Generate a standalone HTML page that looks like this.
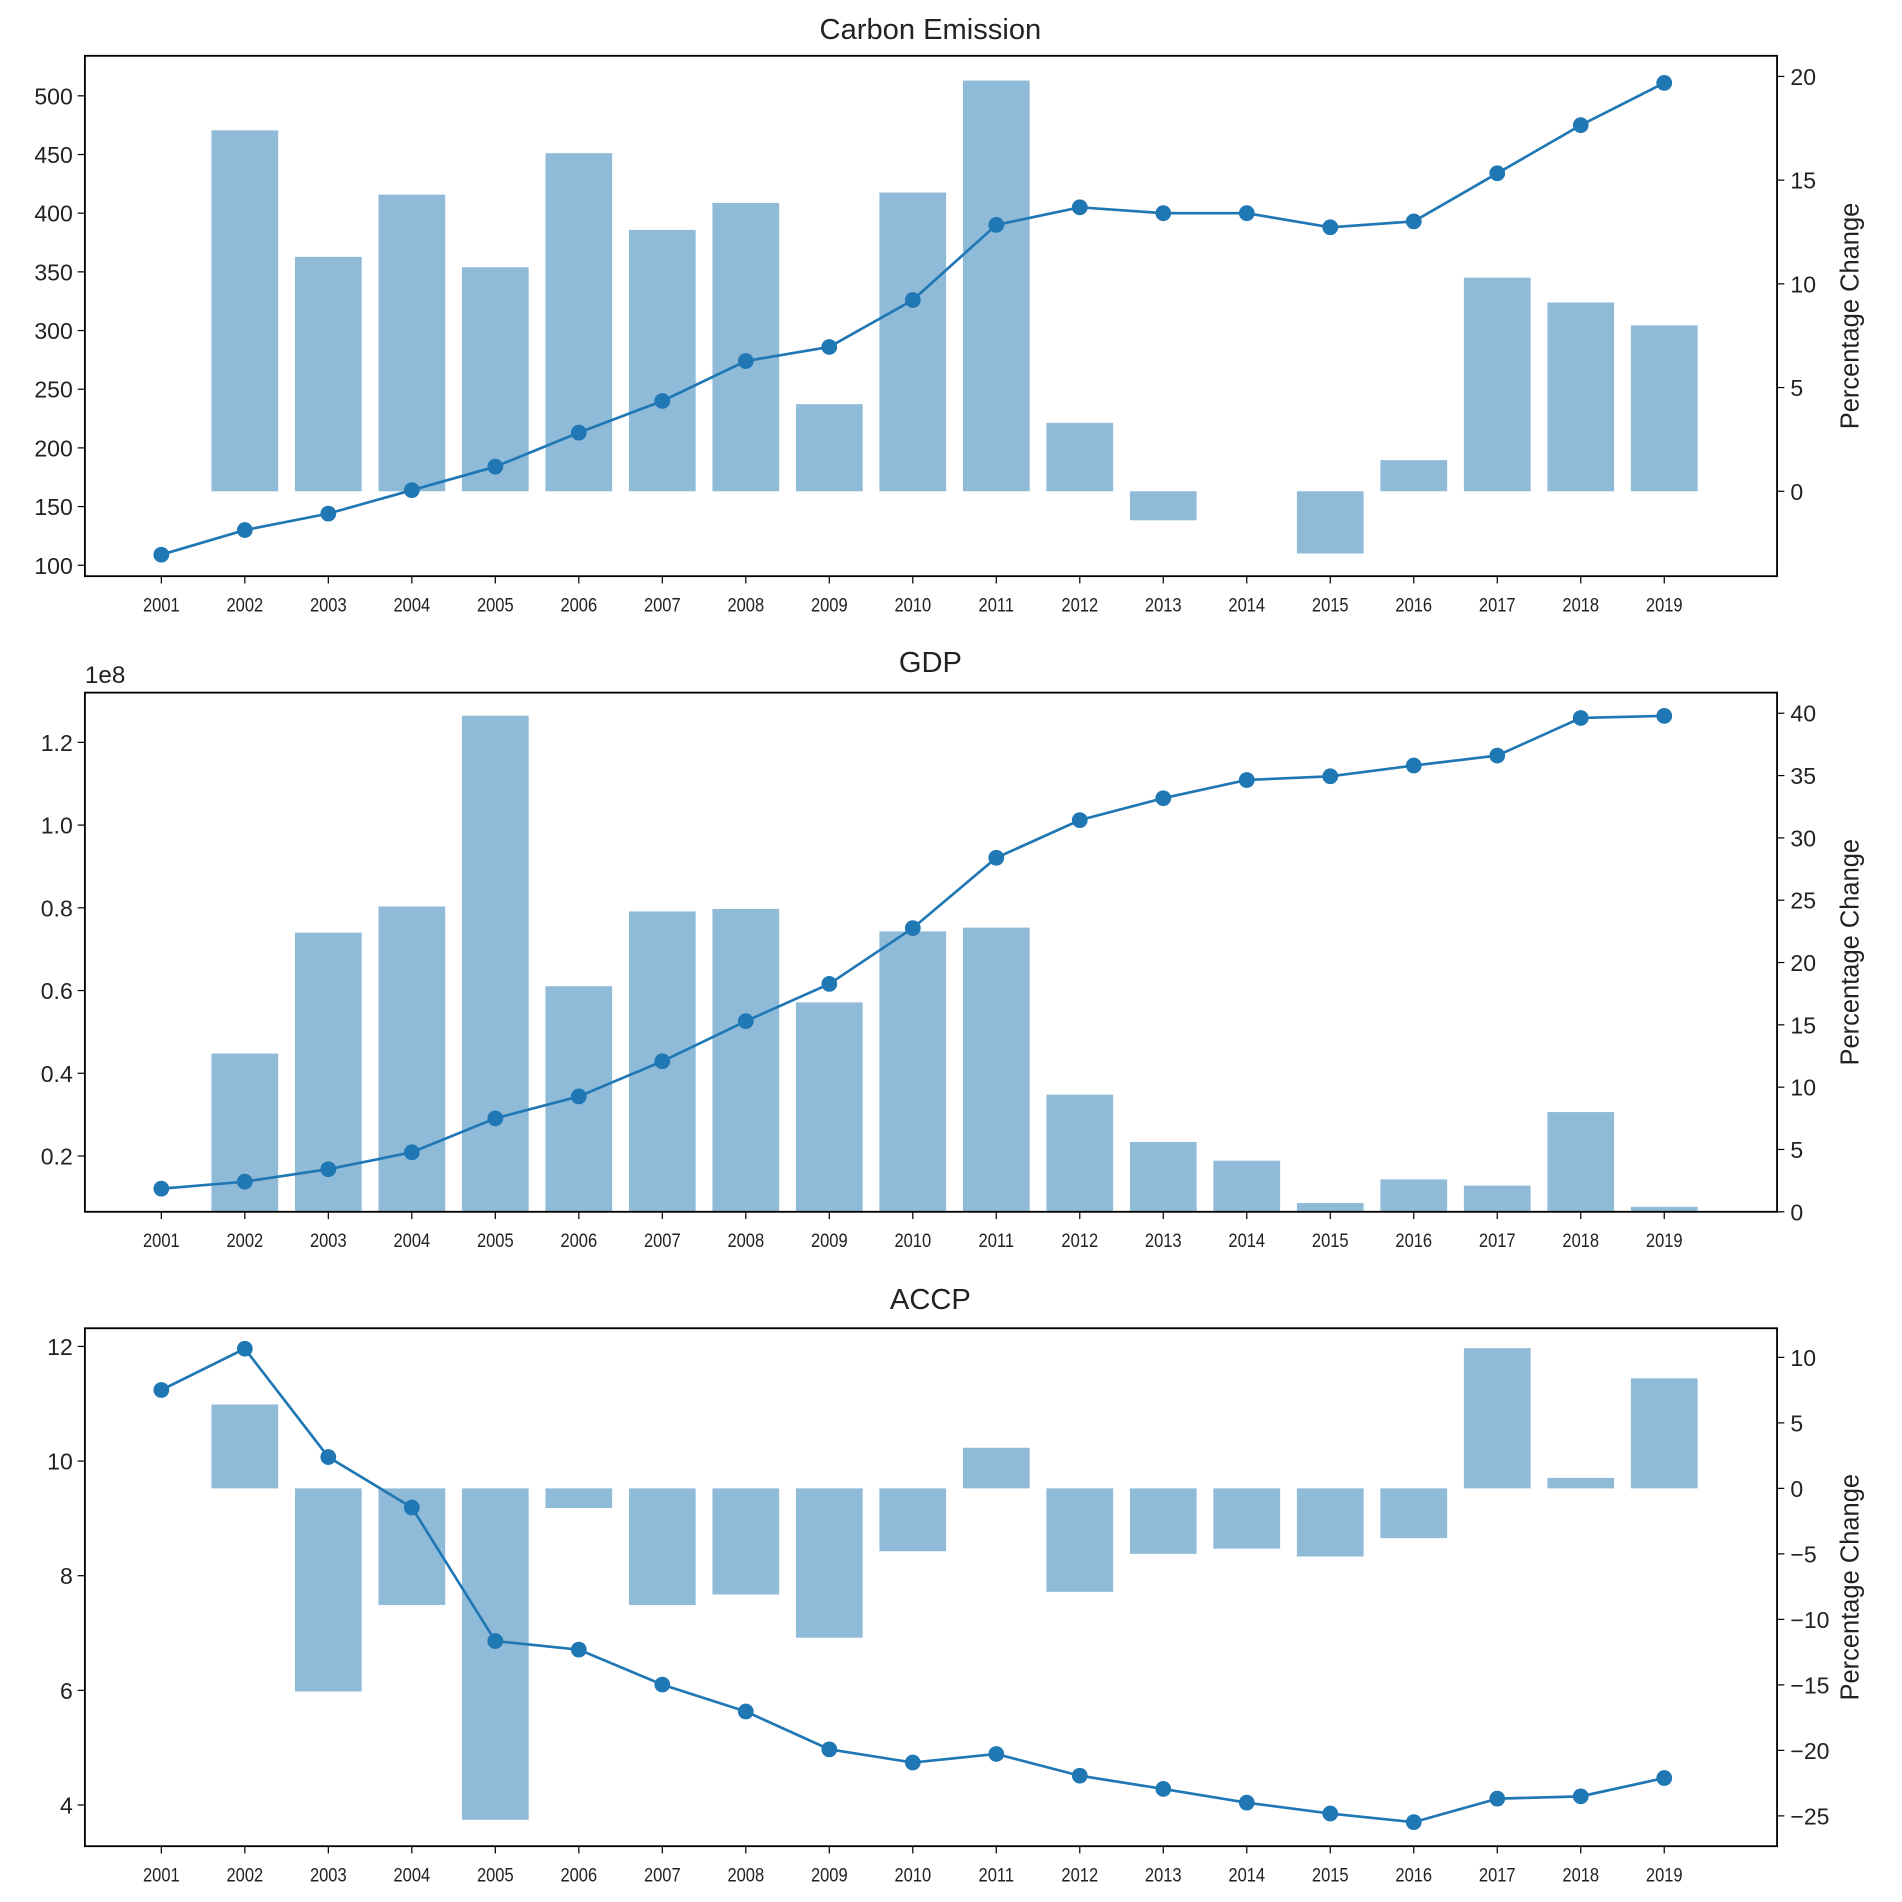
<!DOCTYPE html>
<html><head><meta charset="utf-8"><style>body{margin:0;background:#fff}svg{display:block}text{font-family:"Liberation Sans",sans-serif;fill:#222}</style></head>
<body>
<svg id="chart" width="1902" height="1902" viewBox="0 0 1568 1568" xmlns="http://www.w3.org/2000/svg"></svg>
<script>
const years = [2001,2002,2003,2004,2005,2006,2007,2008,2009,2010,2011,2012,2013,2014,2015,2016,2017,2018,2019];
const carbonValues = [109,130,144,164,184,213,240,274,286,326,390,405,400,400,388,393,434,475,511];
const carbonPct = [0,17.4,11.3,14.3,10.8,16.3,12.6,13.9,4.2,14.4,19.8,3.3,-1.4,0,-3.0,1.5,10.3,9.1,8.0];
const gdpValues = [0.121,0.138,0.168,0.209,0.291,0.344,0.429,0.526,0.616,0.751,0.921,1.012,1.065,1.109,1.118,1.144,1.168,1.259,1.264];
const gdpPct = [0,12.7,22.4,24.5,39.8,18.1,24.1,24.3,16.8,22.5,22.8,9.4,5.6,4.1,0.7,2.6,2.1,8.0,0.4];
const accpValues = [11.24,11.96,10.07,9.19,6.86,6.71,6.10,5.63,4.97,4.74,4.89,4.51,4.28,4.04,3.85,3.70,4.11,4.15,4.47];
const accpPct = [0,6.4,-15.5,-8.9,-25.3,-1.5,-8.9,-8.1,-11.4,-4.8,3.1,-7.9,-5.0,-4.6,-5.2,-3.8,10.7,0.8,8.4];
const carbonLeftTicks = [100,150,200,250,300,350,400,450,500];
const carbonRightTicks = [0,5,10,15,20];
const gdpLeftTicks = [0.2,0.4,0.6,0.8,1.0,1.2];
const gdpRightTicks = [0,5,10,15,20,25,30,35,40];
const accpLeftTicks = [4,6,8,10,12];
const accpRightTicks = [-25,-20,-15,-10,-5,0,5,10];

const svg=document.getElementById('chart');
const NS='http://www.w3.org/2000/svg';
function mk(tag,attrs,parent){const e=document.createElementNS(NS,tag);for(const k in attrs)e.setAttribute(k,attrs[k]);(parent||svg).appendChild(e);return e;}
const xS=y=>133+(y-2001)*(1372-133)/18;

const panels=[
 {key:'carbon',title:'Carbon Emission',top:46,bot:475,vals:carbonValues,pct:carbonPct,lt:carbonLeftTicks,rt:carbonRightTicks,
  ly:[100,466,500,79],ry:[0,405,20,63],fmt:v=>String(v),titleY:32},
 {key:'gdp',title:'GDP',top:571,bot:999,vals:gdpValues,pct:gdpPct,lt:gdpLeftTicks,rt:gdpRightTicks,
  ly:[0.2,953,1.2,612],ry:[0,999,40,588],fmt:v=>v.toFixed(1),titleY:554,exp:'1e8'},
 {key:'accp',title:'ACCP',top:1095,bot:1522,vals:accpValues,pct:accpPct,lt:accpLeftTicks,rt:accpRightTicks,
  ly:[4,1488,12,1110],ry:[0,1227,10,1119],fmt:v=>String(v),titleY:1079}
];
panels.forEach(p=>{
 const g=mk('g',{});
 
 
 const yL=v=>p.ly[1]+(v-p.ly[0])*(p.ly[3]-p.ly[1])/(p.ly[2]-p.ly[0]);
 const yR=v=>p.ry[1]+(v-p.ry[0])*(p.ry[3]-p.ry[1])/(p.ry[2]-p.ry[0]);
 const t=mk('text',{x:767,y:p.titleY,'text-anchor':'middle','font-size':24},g);t.textContent=p.title;
 
 if(p.exp){const e=mk('text',{x:70,y:p.top-8,'font-size':20},g);e.textContent=p.exp;
  }
 years.forEach((yr,i)=>{const v=p.pct[i];const y0=yR(0),y1=yR(v);
  const r=mk('rect',{x:xS(yr)-27.5,y:Math.min(y0,y1),width:55,height:Math.abs(y1-y0),fill:'#1f77b4','fill-opacity':0.5},g);
  });
 const pts=years.map((yr,i)=>xS(yr)+','+yL(p.vals[i])).join(' ');
 const pl=mk('polyline',{points:pts,fill:'none',stroke:'#1f77b4','stroke-width':2.2},g);
 
 years.forEach((yr,i)=>{const c=mk('circle',{cx:xS(yr),cy:yL(p.vals[i]),r:6.5,fill:'#1f77b4'},g);
  });
 const f=mk('rect',{x:70,y:p.top,width:1395,height:p.bot-p.top,fill:'none',stroke:'#000','stroke-width':1.5},g);
 
 years.forEach(yr=>{mk('line',{x1:xS(yr),x2:xS(yr),y1:p.bot,y2:p.bot+6,stroke:'#000'},g);
  const tx=mk('text',{x:xS(yr),y:p.bot+29,'text-anchor':'middle','font-size':16,transform:`translate(${xS(yr)},0) scale(0.85,1) translate(${-xS(yr)},0)`},g);tx.textContent=yr;
  });
 p.lt.forEach(v=>{const y=yL(v);mk('line',{x1:64,x2:70,y1:y,y2:y,stroke:'#000'},g);
  const tx=mk('text',{x:60,y:y+7,'text-anchor':'end','font-size':19},g);tx.textContent=p.fmt(v);
  });
 p.rt.forEach(v=>{const y=yR(v);mk('line',{x1:1465,x2:1471,y1:y,y2:y,stroke:'#000'},g);
  const tx=mk('text',{x:1476,y:y+7,'font-size':19},g);tx.textContent=String(v).replace('-','−');
  });
 const cy=(p.top+p.bot)/2;
 const rl=mk('text',{x:1532,y:cy,'text-anchor':'middle','font-size':21,transform:`rotate(-90 1532 ${cy})`},g);rl.textContent='Percentage Change';
 
});
</script>
</body></html>
